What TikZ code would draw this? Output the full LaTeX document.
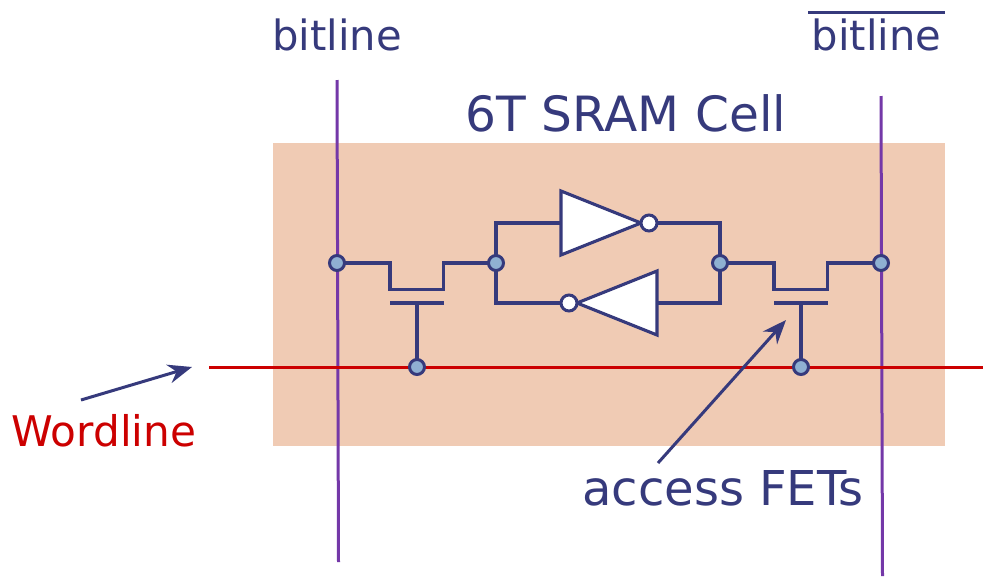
\documentclass[tikz,border=0pt]{standalone}
\usepackage{fontspec}
\setmainfont{DejaVu Sans}
\usetikzlibrary{arrows.meta}
\definecolor{ink}{HTML}{363A7C}
\definecolor{cellbg}{HTML}{F0CBB4}
\definecolor{bitc}{HTML}{7438A8}
\definecolor{wordc}{HTML}{CC0000}
\definecolor{dotc}{HTML}{8FB0D2}
\tikzset{
  wire/.style={draw=ink,line width=3.1pt,line join=miter},
  dotnode/.style={circle,draw=ink,fill=dotc,line width=3pt,minimum size=15pt,inner sep=0pt},
  bubble/.style={circle,draw=ink,fill=white,line width=3pt,minimum size=16pt,inner sep=0pt},
  inv/.style={draw=ink,fill=white,line width=3.1pt,line join=miter},
  bitl/.style={draw=bitc,line width=3pt},
  wordl/.style={draw=wordc,line width=3pt},
  pointer/.style={draw=ink,line width=3pt,-{Stealth[length=24pt,width=19pt,inset=8pt]}},
  lab/.style={text=ink,inner sep=0pt,anchor=base},
}
\begin{document}
\begin{tikzpicture}[x=1pt,y=-1pt]
\useasboundingbox (0,0) rectangle (983,576);
\fill[white] (0,0) rectangle (983,576);
\fill[cellbg] (273,143) rectangle (945,446);
% free ends
\coordinate (blAt) at (337,80); \coordinate (blAb) at (338.5,562);
\coordinate (blBt) at (881,96); \coordinate (blBb) at (882.5,576);
\coordinate (wlL) at (209,367); \coordinate (wlR) at (983,367);
% bit and word lines
\draw[bitl] (blAt) -- (blAb);
\draw[bitl] (blBt) -- (blBb);
\draw[wordl] (wlL) -- (wlR);
% junction nodes
\coordinate (j1) at (337,263);
\coordinate (j2) at (496,263);
\coordinate (j3) at (720,263);
\coordinate (j4) at (881,263);
\coordinate (g1) at (417,367);
\coordinate (g2) at (801,367);
% FET 1
\draw[wire] (j1) -- (390,263) -- (390,289.5) -- (443.5,289.5) -- (443.5,263) -- (j2);
\draw[wire] (390,303) -- (443.5,303);
\draw[wire] (417,303) -- (g1);
% FET 2
\draw[wire] (j3) -- (774,263) -- (774,289.5) -- (827.5,289.5) -- (827.5,263) -- (j4);
\draw[wire] (774,303) -- (827.5,303);
\draw[wire] (801,303) -- (g2);
% latch wiring
\draw[wire] (j2) -- (496,223) -- (561,223);
\draw[wire] (j2) -- (496,303) -- (569,303);
\draw[wire] (649,223) -- (720,223) -- (j3);
\draw[wire] (657,303) -- (720,303) -- (j3);
% inverters
\draw[inv] (561,191) -- (641,223) -- (561,255) -- cycle;
\draw[inv] (657,271) -- (577,303) -- (657,335) -- cycle;
\node[bubble] (b1) at (649,223) {};
\node[bubble] (b2) at (569,303) {};
% dots
\node[dotnode] (n1) at (j1) {};
\node[dotnode] (n2) at (j2) {};
\node[dotnode] (n3) at (j3) {};
\node[dotnode] (n4) at (j4) {};
\node[dotnode] (n5) at (g1) {};
\node[dotnode] (n6) at (g2) {};
% texts
\node[lab,font=\fontsize{41.7}{48}\selectfont] (t1) at (337,50) {bitline};
\node[lab,font=\fontsize{41.7}{48}\selectfont] (t2) at (876.5,50) {bitline};
\draw[draw=ink,line width=3pt] (808,12) -- (945,12);
\node[lab,font=\fontsize{48.6}{54}\selectfont] (t3) at (626,131) {6T SRAM Cell};
\node[lab,font=\fontsize{42.2}{48}\selectfont,text=wordc] (t4) at (104,446) {Wordline};
\node[lab,font=\fontsize{48}{54}\selectfont] (t5) at (723,505) {access FETs};
% pointers
\coordinate (p1s) at (81,400); \coordinate (p1e) at (192,367);
\coordinate (p2s) at (658,463); \coordinate (p2e) at (786,320);
\draw[pointer] (p1s) -- (p1e);
\draw[pointer] (p2s) -- (p2e);
\end{tikzpicture}
\end{document}
